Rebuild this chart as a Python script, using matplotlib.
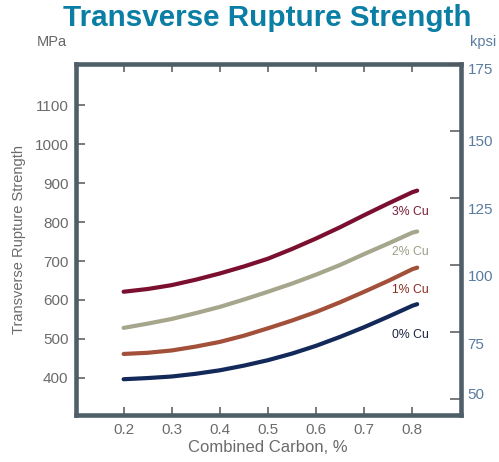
import matplotlib
matplotlib.use("Agg")
import matplotlib.pyplot as plt
from matplotlib.transforms import ScaledTranslation

# ---- data ----
carbon = [0.2, 0.25, 0.3, 0.35, 0.4, 0.45, 0.5, 0.55, 0.6, 0.65, 0.7, 0.75, 0.8, 0.81]
cu0 = [396, 399, 403, 410, 419, 431, 445, 462, 482, 505, 530, 557, 585, 589]
cu1 = [461, 464, 470, 480, 492, 508, 527, 547, 569, 594, 621, 649, 679, 683]
cu2 = [528, 539, 551, 566, 582, 601, 621, 642, 665, 690, 718, 745, 773, 776]
cu3 = [621, 628, 638, 652, 668, 686, 706, 731, 758, 787, 818, 848, 877, 881]
series_labels = ["0% Cu", "1% Cu", "2% Cu", "3% Cu"]
label_mpa = [510, 625, 723, 826]
x_ticks = [0.2, 0.3, 0.4, 0.5, 0.6, 0.7, 0.8]
mpa_ticks = [400, 500, 600, 700, 800, 900, 1000, 1100]
kpsi_ticks = [50, 75, 100, 125, 150, 175]

MPA_PER_KPSI = 6.895

plt.rcParams['font.family'] = ['Liberation Sans', 'DejaVu Sans']

fig = plt.figure(figsize=(4.99, 4.62), dpi=100)
ax = fig.add_axes([75.5 / 499, 1 - 415 / 462, (460.5 - 75.5) / 499, (415 - 64) / 462])

line_colors = ["#13295a", "#a3503a", "#a6a68c", "#7b0f2f"]
text_colors = ["#1a2540", "#8b2a1f", "#9c9c85", "#7a1a34"]

for vals, lc in zip([cu0, cu1, cu2, cu3], line_colors):
    ax.plot(carbon, vals, color=lc, lw=3.0, solid_capstyle='round',
            solid_joinstyle='round', zorder=3)

for lab, tc, ly in zip(series_labels, text_colors, label_mpa):
    ax.text(0.757, ly, lab, color=tc, fontsize=8.8, ha='left', va='center')

ax.set_xlim(0.1, 0.9)
ax.set_ylim(304, 175 * MPA_PER_KPSI)

spine_color = "#4f5f6a"
for s in ax.spines.values():
    s.set_color(spine_color)
    s.set_linewidth(3.3)

ax.set_xticks(x_ticks)
ax.set_xticklabels([f"{v:.1f}" for v in x_ticks])
ax.set_yticks(mpa_ticks)
ax.tick_params(axis='x', direction='in', length=6, width=1.1, color='#555555',
               top=True, labeltop=False, labelsize=11, labelcolor='#6b6b6b', pad=6)
ax.tick_params(axis='y', direction='in', length=6.5, width=1.1, color='#555555',
               labelsize=11, labelcolor='#6b6b6b', pad=5)

ax2 = ax.twinx()
ax2.set_ylim(304 / MPA_PER_KPSI, 175)
ax2.set_yticks(kpsi_ticks)
ax2.tick_params(axis='y', direction='in', length=7, width=1.1, color='#555555',
                labelsize=11, labelcolor='#5a7ca0', pad=5)
for s in ax2.spines.values():
    s.set_visible(False)

# the reference prints the kpsi labels a little below their tick marks
label_shift_px = {50: 6, 75: -11, 100: -10, 125: -10, 150: -9, 175: -4}
fig.canvas.draw()
for tick_val, lab in zip(ax2.get_yticks(), ax2.get_yticklabels()):
    dy = label_shift_px.get(int(round(tick_val)), 0)
    lab.set_transform(lab.get_transform() + ScaledTranslation(0, dy / 100, fig.dpi_scale_trans))

ax.set_xlabel("Combined Carbon, %", fontsize=12, color='#6b6b6b', labelpad=2)
ax.set_ylabel("Transverse Rupture Strength", fontsize=10.5, color='#6b6b6b', labelpad=6)

fig.text(267.5 / 499, 1 - 18 / 462, "Transverse Rupture Strength", fontsize=21.3,
         fontweight='bold', color='#0a7ea4', ha='center', va='center')
fig.text(52 / 499, 1 - 42 / 462, "MPa", fontsize=10.5, color='#666666',
         ha='center', va='center')
fig.text(483 / 499, 1 - 42 / 462, "kpsi", fontsize=10.5, color='#5a7ca0',
         ha='center', va='center')

fig.savefig("out.png", dpi=100)
